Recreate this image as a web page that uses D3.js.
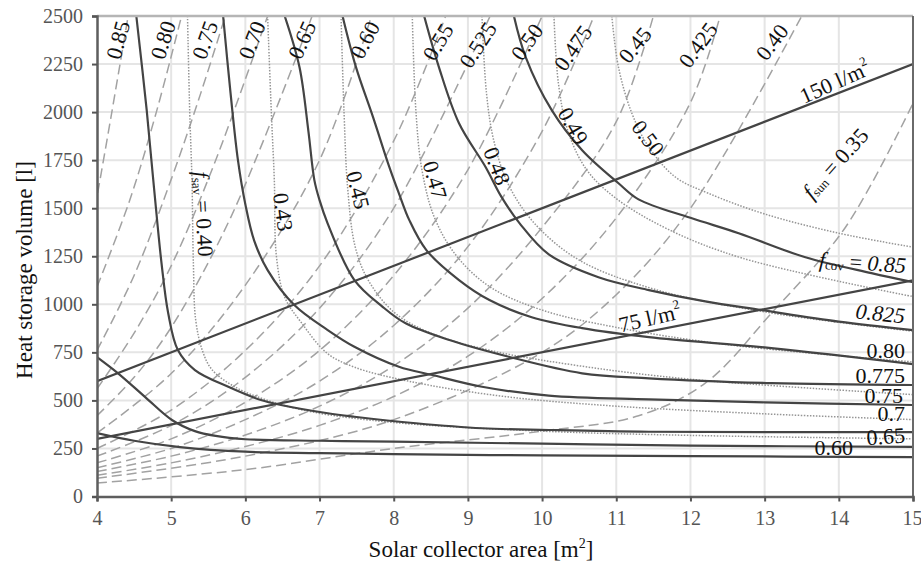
<!DOCTYPE html>
<html>
<head>
<meta charset="utf-8">
<script src="https://cdn.jsdelivr.net/npm/d3@7"></script>
<style>
  html, body { margin: 0; padding: 0; background: #fff; }
  svg { display: block; }
  text { font-family: "Liberation Serif", "DejaVu Serif", serif; }
</style>
</head>
<body>
<svg id="chart" width="921" height="564"></svg>
<script>
// ---------------- DATA ----------------
const xTicks = [4, 5, 6, 7, 8, 9, 10, 11, 12, 13, 14, 15];
const yTicks = [0, 250, 500, 750, 1000, 1250, 1500, 1750, 2000, 2250, 2500];

// Specific storage volume lines (l per m^2)
const specificVolumes = [75, 150];

// f_cov curves (solid)
const covLabels = ["0.85", "0.825", "0.80", "0.775", "0.75", "0.7", "0.65", "0.60"];
const cov085 = [[9.62,2500],[9.78,2285],[10.13,2010],[10.54,1802],[11.03,1630],[11.3,1546],[12.0,1450],[12.65,1370],[13.55,1245],[14.44,1162],[15,1115]];
const cov0825 = [[8.41,2500],[8.61,2233],[8.88,1942],[9.24,1713],[9.45,1560],[9.7,1420],[10.09,1260],[10.76,1141],[11.44,1074],[12.2,1015],[12.96,970],[14,910],[15,866]];
const cov080 = [[7.31,2500],[7.49,2235],[7.72,1975],[7.94,1715],[8.07,1577],[8.21,1438],[8.44,1282],[8.88,1126],[9.29,1022],[9.86,933],[10.54,876],[11.44,829],[13.09,772],[15,689]];
const cov0775 = [[6.53,2500],[6.73,2233],[6.85,1900],[6.93,1646],[7.0,1542],[7.11,1420],[7.47,1126],[7.85,987],[8.16,901],[8.75,814],[9.55,727],[10.54,641],[11.44,615],[13.09,590],[15,580]];
const cov075 = [[5.70,2500],[5.80,2100],[5.90,1750],[6.0,1520],[6.12,1330],[6.30,1178],[6.66,996],[7.11,866],[7.47,779],[8.07,675],[8.52,632],[9.19,571],[10.09,525],[11.44,505],[13,490],[15,476]];
const cov070 = [[4.53,2500],[4.67,2010],[4.77,1600],[4.87,1213],[4.96,953],[5.09,762],[5.32,658],[5.77,571],[6.21,502],[6.48,476],[7.11,433],[7.47,415],[8.3,381],[9.19,355],[10.09,346],[11.44,337],[15,335]];
const cov065 = [[4,725],[4.28,642],[4.65,517],[5.01,398],[5.32,340],[5.6,315],[6.0,298],[7,290],[8,285],[10,275],[12,265],[15,258]];
const cov060 = [[4,330],[4.5,290],[5.12,257],[6,233],[7,226],[8,220],[10,214],[12,210],[15,205]];
const covCurves = [cov085, cov0825, cov080, cov0775, cov075, cov070, cov065, cov060];

// f_sav curves (dotted)
const savLabels = ["0.40", "0.43", "0.45", "0.47", "0.48", "0.49", "0.50"];
const sav040 = [[5.22,2500],[5.25,2000],[5.28,1650],[5.30,1200],[5.33,920],[5.42,760],[5.55,660],[5.86,570],[6.3,500],[6.9,440],[8,385],[10,340],[12,318],[15,300]];
const sav043 = [[6.30,2500],[6.35,2000],[6.39,1650],[6.42,1245],[6.53,1037],[6.76,902],[7.1,746],[7.47,673],[8.2,600],[9.5,520],[11,470],[13,430],[15,400]];
const sav045 = [[7.29,2500],[7.33,2000],[7.38,1600],[7.48,1300],[7.65,1130],[8.0,960],[8.5,850],[9.3,760],[10.5,680],[12,610],[15,530]];
const sav047 = [[8.25,2500],[8.30,2000],[8.38,1700],[8.55,1450],[8.85,1250],[9.3,1090],[10,970],[11,880],[12.5,790],[15,700]];
const sav048 = [[9.19,2500],[9.25,2100],[9.35,1850],[9.55,1620],[9.9,1420],[10.5,1230],[11.5,1080],[13,960],[15,860]];
const sav049 = [[10.16,2500],[10.22,2150],[10.35,1900],[10.6,1700],[11.0,1550],[11.7,1390],[12.7,1240],[15,1040]];
const sav050 = [[10.94,2500],[11.03,2233],[11.21,1994],[11.44,1817],[11.8,1661],[12.24,1578],[13,1470],[14,1370],[15,1297]];
const savCurves = [sav040, sav043, sav045, sav047, sav048, sav049, sav050];

// f_sun curves (dashed)
const sunLabels = ["0.85","0.80","0.75","0.70","0.65","0.60","0.55","0.525","0.50","0.475","0.45","0.425","0.40","0.35"];
const sun085 = [[3.9,1350],[4,1560],[4.2,2000],[4.42,2500]];
const sun080 = [[4,1090],[4.44,1540],[4.8,2000],[5.14,2500]];
const sun075 = [[4,760],[4.5,1150],[5.0,1650],[5.4,2100],[5.73,2500]];
const sun070 = [[4,560],[4.5,850],[5.0,1200],[5.6,1750],[6.3,2500]];
const sun065 = [[4,420],[4.5,620],[5.0,880],[5.8,1450],[6.9,2500]];
const sun060 = [[4,330],[5,640],[6,1100],[7,1750],[7.7,2500]];
const sun055 = [[4,250],[5,450],[6,760],[7,1200],[8,1850],[8.7,2500]];
const sun0525 = [[4,210],[5,370],[6,620],[7,980],[8,1500],[9.3,2500]];
const sun050 = [[4,175],[5,300],[6,490],[7,760],[8,1150],[9,1700],[10.0,2500]];
const sun0475 = [[4,150],[5,250],[6,400],[7,600],[8,890],[9,1300],[10,1900],[10.7,2500]];
const sun045 = [[4,130],[5,210],[6,320],[7,470],[8,680],[9,980],[10,1400],[11,1950],[11.5,2500]];
const sun0425 = [[4,110],[5,175],[6,260],[7,370],[8,520],[9,730],[10,1030],[11,1450],[12,2050],[12.4,2500]];
const sun040 = [[4,95],[6,210],[8,400],[10,750],[11,1050],[12,1500],[13.5,2500]];
const sun035 = [[4,70],[6,140],[8,250],[10,340],[11.3,420],[12.2,590],[13.09,953],[14.09,1401],[15,2046]];
const sunCurves = [sun085, sun080, sun075, sun070, sun065, sun060, sun055, sun0525, sun050, sun0475, sun045, sun0425, sun040, sun035];

// ---------------- CHART ----------------
const W = 921, H = 564;
const m = { left: 97, right: 8, top: 16, bottom: 67.5 };
const svg = d3.select("#chart");
const x = d3.scaleLinear().domain([4, 15]).range([m.left, W - m.right]);
const y = d3.scaleLinear().domain([0, 2500]).range([H - m.bottom, m.top]);

svg.append("defs").append("clipPath").attr("id", "plotclip")
  .append("rect").attr("x", m.left).attr("y", m.top)
  .attr("width", W - m.left - m.right).attr("height", H - m.top - m.bottom);

// grid
const grid = svg.append("g");
grid.selectAll("line.v").data(xTicks.slice(1, -1)).join("line")
  .attr("x1", d => x(d)).attr("x2", d => x(d)).attr("y1", m.top).attr("y2", H - m.bottom)
  .attr("stroke", "#e5e5e5").attr("stroke-width", 2);
grid.selectAll("line.h").data(yTicks.slice(1, -1)).join("line")
  .attr("y1", d => y(d)).attr("y2", d => y(d)).attr("x1", m.left).attr("x2", W - m.right)
  .attr("stroke", "#e5e5e5").attr("stroke-width", 2);

const plot = svg.append("g").attr("clip-path", "url(#plotclip)");
const line = d3.line().x(d => x(d[0])).y(d => y(d[1])).curve(d3.curveCatmullRom.alpha(0.5));

// dashed f_sun
plot.selectAll("path.sun").data(sunCurves).join("path")
  .attr("d", line).attr("fill", "none").attr("stroke", "#a2a2a2").attr("stroke-width", 1.5)
  .attr("stroke-dasharray", "10,5");
// dotted f_sav
plot.selectAll("path.sav").data(savCurves).join("path")
  .attr("d", line).attr("fill", "none").attr("stroke", "#959595").attr("stroke-width", 1.5)
  .attr("stroke-dasharray", "1.5,1.5");
// solid f_cov
plot.selectAll("path.cov").data(covCurves).join("path")
  .attr("d", line).attr("fill", "none").attr("stroke", "#444").attr("stroke-width", 2.2);
// specific volume lines
plot.selectAll("path.spec").data(specificVolumes).join("path")
  .attr("d", v => line([[4, 4 * v], [15, 15 * v]]))
  .attr("fill", "none").attr("stroke", "#444").attr("stroke-width", 2.2);

// frame: light top, darker right
svg.append("line").attr("x1", m.left).attr("x2", W - m.right).attr("y1", m.top).attr("y2", m.top)
  .attr("stroke", "#b5b5b5").attr("stroke-width", 2.5);
svg.append("line").attr("x1", W - m.right).attr("x2", W - m.right).attr("y1", m.top).attr("y2", H - m.bottom)
  .attr("stroke", "#6a6a6a").attr("stroke-width", 2);

const xAxis = svg.append("g").attr("transform", `translate(0,${H - m.bottom})`)
  .call(d3.axisBottom(x).tickValues(xTicks).tickSize(5).tickPadding(9).tickFormat(d3.format("d")));
const yAxis = svg.append("g").attr("transform", `translate(${m.left},0)`)
  .call(d3.axisLeft(y).tickValues(yTicks).tickSize(5).tickPadding(9).tickFormat(d3.format("d")));
[xAxis, yAxis].forEach(a => {
  a.select(".domain").attr("stroke", "#5e5e5e").attr("stroke-width", 2.5);
  a.selectAll(".tick line").attr("stroke", "#555").attr("stroke-width", 2);
  a.selectAll(".tick text").attr("font-family", "Liberation Serif").attr("font-size", 20).attr("fill", "#555");
});
// keep the last x tick label inside the picture
xAxis.selectAll(".tick text").filter(d => d === 15).attr("text-anchor", "end").attr("dx", 9);

// axis titles
svg.append("text").attr("x", 481).attr("y", 557).attr("text-anchor", "middle")
  .attr("font-size", 23).attr("fill", "#111")
  .html('Solar collector area [m<tspan dy="-9" font-size="14">2</tspan><tspan dy="9">]</tspan>');
svg.append("text").attr("transform", "translate(32,270) rotate(-90)").attr("text-anchor", "middle")
  .attr("font-size", 23).attr("fill", "#111").text("Heat storage volume [l]");

const lab = svg.append("g").attr("font-size", 22).attr("fill", "#111");
function addLabel(cx, cy, rot, html, opts = {}) {
  lab.append("text").attr("transform", `translate(${cx},${cy}) rotate(${rot})`)
    .attr("text-anchor", opts.anchor || "middle").attr("dominant-baseline", "central")
    .attr("font-style", opts.italic ? "italic" : null)
    .html(html);
}

// f_sun labels (top)
const sunPos = [[118,40,-75],[163,40,-72],[205,40,-70],[252,40,-68],[302,40,-66],[365,40,-62],[438,42,-59],[478,45,-57],[527,42,-55],[573,48,-55],[635,45,-51],[698,45,-54],[772,42,-53]];
sunPos.forEach((p, i) => addLabel(p[0], p[1], p[2], sunLabels[i]));
addLabel(835, 163, -48, '<tspan font-style="italic">f</tspan><tspan font-size="13" dy="5">sun</tspan><tspan dy="-5"> = ' + sunLabels[13] + '</tspan>');

// f_sav labels
addLabel(204, 214, 87, '<tspan font-style="italic">f</tspan><tspan font-size="13" dy="5">sav</tspan><tspan dy="-5"> = ' + savLabels[0] + '</tspan>');
const savPos = [[283,212,82],[358,190,76],[435,180,74],[497,166,69],[573,126,60],[648,138,53]];
savPos.forEach((p, i) => addLabel(p[0], p[1], p[2], savLabels[i + 1]));

// f_cov labels (right)
addLabel(906, 265, 4, '<tspan font-style="italic">f</tspan><tspan font-size="13" dy="5">cov</tspan><tspan dy="-5"> = </tspan><tspan font-style="italic">' + covLabels[0] + '</tspan>', { anchor: "end" });
addLabel(905, 316, 6, covLabels[1], { anchor: "end", italic: true });
const covPos = [[905,350,0],[905,375,0],[903,395,0],[905,413,0],[905,435,-4],[853,447,0]];
covPos.forEach((p, i) => addLabel(p[0], p[1], p[2], covLabels[i + 2], { anchor: "end" }));

// specific volume labels
addLabel(650, 318, -13, '75 l/m<tspan dy="-8" font-size="13">2</tspan>');
addLabel(835, 82, -24, '150 l/m<tspan dy="-8" font-size="13">2</tspan>');
</script>
</body>
</html>
